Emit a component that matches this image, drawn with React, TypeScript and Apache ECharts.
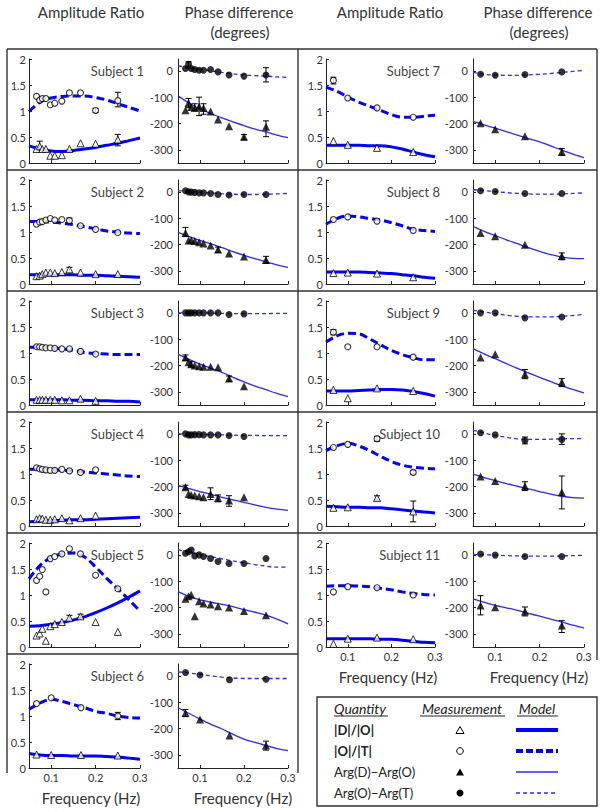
import React, { useEffect, useRef } from "react";
import * as echarts from "echarts";

const SUBJECTS = ["Subject 1", "Subject 2", "Subject 3", "Subject 4", "Subject 5", "Subject 6", "Subject 7", "Subject 8", "Subject 9", "Subject 10", "Subject 11"];

const F11 = [0.067, 0.074, 0.08, 0.088, 0.098, 0.108, 0.124, 0.141, 0.166, 0.2, 0.25];
const F10 = [0.067, 0.074, 0.08, 0.088, 0.098, 0.108, 0.124, 0.141, 0.166, 0.2];
const F4 = [0.067, 0.1, 0.167, 0.25];
const MEAS_FREQ = [F11, F11, F10, F10, F11, F4, F4, F4, F4, F4, F4];

// |D|/|O| measurements (open triangles)
const AMP_DO = [
  [0.27, 0.32, 0.27, 0.27, 0.14, 0.14, 0.15, 0.27, 0.38, 0.37, 0.45],
  [0.15, 0.16, 0.19, 0.22, 0.22, 0.21, 0.23, 0.28, 0.22, 0.19, 0.19],
  [0.1, 0.1, 0.1, 0.1, 0.1, 0.1, 0.09, 0.09, 0.12, 0.08],
  [0.13, 0.15, 0.14, 0.12, 0.12, 0.13, 0.15, 0.11, 0.15, 0.2],
  [0.22, 0.26, 0.35, 0.12, 0.4, 0.44, 0.48, 0.56, 0.59, 0.48, 0.29],
  [0.26, 0.25, 0.25, 0.24],
  [0.42, 0.35, 0.29, 0.21],
  [0.21, 0.22, 0.2, 0.13],
  [0.29, 0.13, 0.32, 0.27],
  [0.35, 0.36, 0.54, 0.28],
  [0.06, 0.16, 0.18, 0.15],
];
// |O|/|T| measurements (open circles)
const AMP_OT = [
  [1.28, 1.21, 1.24, 1.24, 1.12, 1.15, 1.19, 1.35, 1.35, 1.01, 1.2],
  [1.15, 1.19, 1.2, 1.23, 1.26, 1.23, 1.24, 1.22, 1.12, 1.05, 0.99],
  [1.12, 1.12, 1.11, 1.1, 1.1, 1.09, 1.08, 1.08, 1.03, 0.98],
  [1.12, 1.1, 1.09, 1.08, 1.07, 1.07, 1.09, 1.06, 1.03, 1.08],
  [1.28, 1.36, 1.49, 1.06, 1.7, 1.74, 1.79, 1.89, 1.79, 1.38, 1.12],
  [1.24, 1.35, 1.16, 1.0],
  [1.59, 1.25, 1.06, 0.88],
  [1.24, 1.29, 1.21, 1.03],
  [1.4, 1.12, 1.12, 0.92],
  [1.51, 1.57, 1.68, 1.03],
  [1.06, 1.16, 1.14, 1.0],
];
// Arg(D)-Arg(O) measurements (filled triangles)
const PH_DO = [
  [-150, -122, -137, -141, -135, -141, -154, -185, -210, -250, -212],
  [-156, -185, -184, -187, -191, -196, -204, -219, -234, -246, -259],
  [-170, -188, -195, -200, -203, -205, -205, -207, -249, -279],
  [-203, -228, -232, -234, -237, -241, -228, -244, -253, -241],
  [-167, -157, -152, -233, -176, -185, -189, -195, -200, -213, -229],
  [-141, -166, -227, -265],
  [-199, -222, -248, -308],
  [-156, -169, -201, -244],
  [-170, -157, -233, -264],
  [-162, -179, -199, -222],
  [-192, -199, -215, -268],
];
// Arg(O)-Arg(T) measurements (filled circles)
const PH_OT = [
  [9, 25, 9, 5, 2, 2, 5, -4, -16, -20, -16],
  [4, 0, -1, -2, -4, -4, -6, -10, -12, -10, -10],
  [0, 0, 0, 0, 0, 0, 0, 0, -6, -4],
  [0, -4, -4, -3, -3, -4, -4, -4, -6, -10],
  [6, 12, 18, -4, 0, -6, -14, -25, -33, -33, -14],
  [13, 3, -15, -13],
  [-13, -17, -14, -4],
  [4, 1, -6, -6],
  [0, 0, -19, -16],
  [4, -4, -25, -21],
  [3, -1, -6, -6],
];

const MODEL_FREQ = [0.05, 0.075, 0.1, 0.125, 0.15, 0.175, 0.2, 0.225, 0.25, 0.275, 0.3];
const MODEL_AMP_DO = [
  [0.33, 0.27, 0.23, 0.22, 0.24, 0.27, 0.3, 0.34, 0.38, 0.43, 0.48],
  [0.18, 0.18, 0.18, 0.18, 0.18, 0.17, 0.17, 0.16, 0.15, 0.14, 0.13],
  [0.1, 0.1, 0.1, 0.1, 0.09, 0.09, 0.08, 0.08, 0.07, 0.07, 0.06],
  [0.08, 0.09, 0.1, 0.11, 0.12, 0.12, 0.13, 0.14, 0.15, 0.16, 0.17],
  [0.4, 0.41, 0.44, 0.47, 0.52, 0.58, 0.66, 0.75, 0.85, 0.96, 1.08],
  [0.28, 0.25, 0.24, 0.24, 0.23, 0.23, 0.23, 0.22, 0.21, 0.19, 0.17],
  [0.34, 0.34, 0.34, 0.34, 0.33, 0.33, 0.31, 0.27, 0.21, 0.16, 0.12],
  [0.23, 0.23, 0.23, 0.23, 0.22, 0.21, 0.2, 0.18, 0.16, 0.13, 0.11],
  [0.27, 0.27, 0.27, 0.28, 0.29, 0.3, 0.3, 0.29, 0.26, 0.22, 0.17],
  [0.38, 0.37, 0.36, 0.36, 0.35, 0.35, 0.33, 0.31, 0.29, 0.27, 0.25],
  [0.16, 0.16, 0.16, 0.16, 0.16, 0.15, 0.15, 0.13, 0.11, 0.09, 0.08],
];
const MODEL_AMP_OT = [
  [0.99, 1.17, 1.25, 1.28, 1.29, 1.29, 1.26, 1.21, 1.14, 1.07, 1.0],
  [1.2, 1.2, 1.19, 1.17, 1.14, 1.1, 1.06, 1.02, 1.0, 0.98, 0.97],
  [1.11, 1.11, 1.1, 1.08, 1.05, 1.01, 0.99, 0.98, 0.97, 0.97, 0.97],
  [1.09, 1.09, 1.08, 1.07, 1.06, 1.04, 1.02, 1.0, 0.98, 0.96, 0.95],
  [1.31, 1.57, 1.72, 1.79, 1.81, 1.73, 1.54, 1.32, 1.12, 0.91, 0.69],
  [1.13, 1.25, 1.32, 1.28, 1.22, 1.16, 1.09, 1.05, 1.0, 0.97, 0.96],
  [1.46, 1.38, 1.27, 1.17, 1.09, 1.01, 0.93, 0.88, 0.88, 0.9, 0.92],
  [1.15, 1.26, 1.31, 1.29, 1.26, 1.23, 1.18, 1.12, 1.05, 1.03, 1.01],
  [1.21, 1.33, 1.38, 1.37, 1.27, 1.16, 1.05, 0.97, 0.91, 0.87, 0.87],
  [1.45, 1.54, 1.59, 1.54, 1.45, 1.34, 1.24, 1.17, 1.13, 1.11, 1.1],
  [1.17, 1.18, 1.18, 1.17, 1.16, 1.13, 1.1, 1.06, 1.03, 1.01, 1.0],
];
const MODEL_PH_DO = [
  [-95, -122, -145, -163, -179, -194, -208, -221, -232, -244, -254],
  [-154, -170, -184, -198, -212, -227, -241, -254, -266, -277, -287],
  [-157, -177, -195, -211, -226, -245, -262, -278, -292, -306, -318],
  [-196, -208, -219, -230, -241, -251, -260, -270, -279, -286, -291],
  [-140, -158, -171, -180, -188, -197, -208, -218, -229, -244, -262],
  [-120, -143, -164, -184, -202, -222, -240, -253, -265, -276, -284],
  [-192, -205, -218, -231, -244, -257, -270, -285, -301, -316, -330],
  [-131, -150, -166, -182, -197, -212, -226, -238, -248, -253, -254],
  [-136, -156, -174, -193, -211, -228, -245, -261, -277, -291, -304],
  [-153, -166, -178, -189, -199, -209, -219, -229, -237, -242, -244],
  [-167, -180, -192, -201, -211, -222, -233, -244, -255, -267, -278],
];
const MODEL_PH_OT = [
  [19, 12, 5, 0, -6, -11, -16, -18, -20, -23, -25],
  [4, 2, -1, -4, -7, -9, -10, -10, -9, -8, -6],
  [0, 0, 0, -1, -2, -3, -3, -3, -3, -2, -2],
  [0, -1, -2, -3, -4, -5, -6, -6, -7, -7, -7],
  [20, 10, 2, -7, -15, -23, -30, -37, -43, -47, -46],
  [15, 11, 6, 0, -5, -8, -10, -10, -10, -10, -10],
  [-6, -13, -16, -17, -17, -15, -13, -10, -6, -2, 2],
  [8, 5, 1, -3, -6, -8, -9, -9, -8, -6, -4],
  [10, 3, -3, -9, -13, -15, -15, -15, -13, -10, -6],
  [14, 3, -6, -13, -19, -21, -21, -20, -19, -18, -18],
  [2, 0, -1, -3, -4, -5, -5, -5, -4, -3, -2],
];

// error bars: [frequency, low, high]
const ERR_AMP = [
  [[0.074, 0.25, 0.42], [0.25, 0.33, 0.55], [0.25, 1.08, 1.36], [0.2, 0.97, 1.05]],
  [[0.141, 0.22, 0.32], [0.141, 1.17, 1.27]],
  [],
  [],
  [[0.141, 0.52, 0.61], [0.166, 0.55, 0.63]],
  [[0.25, 0.93, 1.07]],
  [[0.067, 1.52, 1.65]],
  [],
  [[0.067, 1.35, 1.45]],
  [[0.167, 1.63, 1.72], [0.25, 1.0, 1.07], [0.167, 0.5, 0.58], [0.25, 0.08, 0.48]],
  [],
];
const ERR_PH = [
  [[0.074, 10, 35], [0.25, -42, 12], [0.074, -140, -105], [0.098, -170, -100], [0.108, -165, -125], [0.088, -150, -125], [0.25, -250, -190], [0.2, -262, -242]],
  [[0.067, -170, -135], [0.25, -272, -245], [0.141, -230, -210]],
  [[0.067, -180, -160], [0.08, -205, -185], [0.166, -260, -240]],
  [[0.124, -250, -205], [0.141, -258, -232], [0.166, -275, -235], [0.067, -210, -195]],
  [],
  [[0.067, -155, -128], [0.25, -282, -248]],
  [[0.25, -320, -295]],
  [[0.25, -258, -232]],
  [[0.167, -250, -215], [0.25, -280, -250]],
  [[0.167, -38, -12], [0.25, -40, 0], [0.167, -215, -182], [0.25, -285, -160]],
  [[0.067, -228, -155], [0.167, -232, -198], [0.25, -295, -250]],
];

const X_TICKS = [0.1, 0.2, 0.3];
const PHASE_TICKS = [0, -100, -200, -300];

const FONT = "Lato, 'Open Sans', sans-serif";

export default function App() {
  const ref = useRef<HTMLDivElement>(null);
  useEffect(() => {
    if (!ref.current) return;
    const chart = echarts.init(ref.current, undefined, { renderer: "svg" });

    const LEFT_ROWS = [49, 170, 291, 412, 533, 654];
    const RIGHT_ROWS = [49, 170, 291, 412, 533];
    const axisColor = "#222";

    const grids: any[] = [];
    const xAxes: any[] = [];
    const yAxes: any[] = [];
    const series: any[] = [];
    const graphics: any[] = [];

    const errRender = (params: any, api: any) => {
      const x = api.value(0);
      const p1 = api.coord([x, api.value(1)]);
      const p2 = api.coord([x, api.value(2)]);
      const st = { stroke: "#000", lineWidth: 1 };
      return {
        type: "group",
        children: [
          { type: "line", shape: { x1: p1[0], y1: p1[1], x2: p2[0], y2: p2[1] }, style: st },
          { type: "line", shape: { x1: p1[0] - 3, y1: p1[1], x2: p1[0] + 3, y2: p1[1] }, style: st },
          { type: "line", shape: { x1: p2[0] - 3, y1: p2[1], x2: p2[0] + 3, y2: p2[1] }, style: st },
        ],
      };
    };

    for (let s = 0; s < 11; s++) {
      const left = s < 6;
      const rowTop = left ? LEFT_ROWS[s] : RIGHT_ROWS[s - 6];
      const isBottom = s === 5 || s === 10;
      const ampLeft = left ? 29 : 326;
      const ampW = left ? 111 : 109;
      const phLeft = left ? 178 : 473;
      const phW = left ? 110 : 111;
      const gTop = rowTop + 10;
      const gH = 104;
      const ga = 2 * s;
      const gp = 2 * s + 1;
      grids.push({ left: ampLeft, top: gTop, width: ampW, height: gH });
      grids.push({ left: phLeft, top: gTop, width: phW, height: gH });

      for (const g of [ga, gp]) {
        xAxes.push({
          gridIndex: g,
          type: "value",
          min: 0.05,
          max: 0.3,
          axisLine: { show: true, onZero: false, lineStyle: { color: axisColor, width: 1 } },
          axisTick: { show: true, inside: true, length: 3, customValues: X_TICKS, lineStyle: { color: axisColor } },
          axisLabel: { show: isBottom, customValues: X_TICKS, fontSize: 11, color: "#333", margin: 4, fontFamily: FONT },
          splitLine: { show: false },
        });
      }
      yAxes.push({
        gridIndex: ga,
        type: "value",
        min: 0,
        max: 2,
        interval: 0.5,
        axisLine: { show: true, onZero: false, lineStyle: { color: axisColor, width: 1 } },
        axisTick: { show: true, inside: true, length: 3, lineStyle: { color: axisColor } },
        axisLabel: { fontSize: 11, color: "#333", margin: 3, fontFamily: FONT },
        splitLine: { show: false },
      });
      yAxes.push({
        gridIndex: gp,
        type: "value",
        min: -350,
        max: 45,
        axisLine: { show: true, onZero: false, lineStyle: { color: axisColor, width: 1 } },
        axisTick: { show: true, inside: true, length: 3, customValues: PHASE_TICKS, lineStyle: { color: axisColor } },
        axisLabel: { customValues: PHASE_TICKS, fontSize: 11, color: "#333", margin: 5, fontFamily: FONT },
        splitLine: { show: false },
      });

      const lineBase = { type: "line", showSymbol: false, smooth: 0.35, silent: true, z: 2 };
      // amplitude panel
      series.push({
        ...lineBase, xAxisIndex: ga, yAxisIndex: ga,
        data: MODEL_FREQ.map((f, i) => [f, MODEL_AMP_DO[s][i]]),
        lineStyle: { color: "#0000ff", width: 3 },
      });
      series.push({
        ...lineBase, xAxisIndex: ga, yAxisIndex: ga,
        data: MODEL_FREQ.map((f, i) => [f, MODEL_AMP_OT[s][i]]),
        lineStyle: { color: "#0000ff", width: 3, type: [8, 4] },
      });
      series.push({
        type: "custom", xAxisIndex: ga, yAxisIndex: ga, renderItem: errRender,
        encode: { x: 0, y: [1, 2] }, data: ERR_AMP[s], z: 3, silent: true,
      });
      series.push({
        type: "scatter", xAxisIndex: ga, yAxisIndex: ga, symbol: "triangle", symbolSize: 7,
        data: MEAS_FREQ[s].map((f, i) => [f, AMP_DO[s][i]]),
        itemStyle: { color: "#fff", borderColor: "#000", borderWidth: 1 }, z: 4, silent: true,
      });
      series.push({
        type: "scatter", xAxisIndex: ga, yAxisIndex: ga, symbol: "circle", symbolSize: 6,
        data: MEAS_FREQ[s].map((f, i) => [f, AMP_OT[s][i]]),
        itemStyle: { color: "#fff", borderColor: "#000", borderWidth: 1.1 }, z: 4, silent: true,
      });
      // phase panel
      series.push({
        ...lineBase, xAxisIndex: gp, yAxisIndex: gp,
        data: MODEL_FREQ.map((f, i) => [f, MODEL_PH_DO[s][i]]),
        lineStyle: { color: "#2a2aff", width: 1.3 },
      });
      series.push({
        ...lineBase, xAxisIndex: gp, yAxisIndex: gp,
        data: MODEL_FREQ.map((f, i) => [f, MODEL_PH_OT[s][i]]),
        lineStyle: { color: "#2a2aff", width: 1.3, type: [4, 3] },
      });
      series.push({
        type: "custom", xAxisIndex: gp, yAxisIndex: gp, renderItem: errRender,
        encode: { x: 0, y: [1, 2] }, data: ERR_PH[s], z: 3, silent: true,
      });
      series.push({
        type: "scatter", xAxisIndex: gp, yAxisIndex: gp, symbol: "triangle", symbolSize: 8,
        data: MEAS_FREQ[s].map((f, i) => [f, PH_DO[s][i]]),
        itemStyle: { color: "#000" }, z: 4, silent: true,
      });
      series.push({
        type: "scatter", xAxisIndex: gp, yAxisIndex: gp, symbol: "circle", symbolSize: 7,
        data: MEAS_FREQ[s].map((f, i) => [f, PH_OT[s][i]]),
        itemStyle: { color: "#000" }, z: 4, silent: true,
      });

      graphics.push({
        type: "text",
        style: {
          text: SUBJECTS[s], x: left ? 144 : 440, y: rowTop + 22,
          textAlign: "right", textVerticalAlign: "middle",
          font: `13px ${FONT}`, fill: "#444",
        },
      });
    }

    // headers
    const header = (text: string, x: number, y: number) => ({
      type: "text",
      style: { text, x, y, textAlign: "center", textVerticalAlign: "middle", font: `15px ${FONT}`, fill: "#333" },
    });
    graphics.push(header("Amplitude Ratio", 91, 12));
    graphics.push(header("Phase difference", 239, 12));
    graphics.push(header("(degrees)", 240, 32));
    graphics.push(header("Amplitude Ratio", 390, 12));
    graphics.push(header("Phase difference", 538, 12));
    graphics.push(header("(degrees)", 539, 32));

    const fx = (text: string, x: number, y: number) => ({
      type: "text",
      style: { text, x, y, textAlign: "center", textVerticalAlign: "middle", font: `15px ${FONT}`, fill: "#333" },
    });
    graphics.push(fx("Frequency (Hz)", 91, 798));
    graphics.push(fx("Frequency (Hz)", 243, 798));
    graphics.push(fx("Frequency (Hz)", 388, 677));
    graphics.push(fx("Frequency (Hz)", 539, 677));

    // panel borders
    const bs = { stroke: "#333", lineWidth: 1.4 };
    const ln = (x1: number, y1: number, x2: number, y2: number, style: any = bs) => ({
      type: "line", shape: { x1, y1, x2, y2 }, style,
    });
    graphics.push(ln(7, 49, 597, 49));
    graphics.push(ln(7, 49, 7, 773));
    graphics.push(ln(298, 49, 298, 773));
    graphics.push(ln(597, 49, 597, 660));
    for (const y of [170, 291, 412, 533, 654]) graphics.push(ln(7, y, 298, y));
    for (const y of [170, 291, 412, 533]) graphics.push(ln(298, y, 597, y));

    // legend box
    graphics.push({
      type: "rect", shape: { x: 317, y: 697, width: 280, height: 109 },
      style: { fill: "none", stroke: "#333", lineWidth: 1.4 },
    });
    const legTitle = (text: string, x: number, align: string) => ({
      type: "text",
      style: { text, x, y: 708, textAlign: align, textVerticalAlign: "middle", font: `italic 14px ${FONT}`, fill: "#222" },
    });
    graphics.push(legTitle("Quantity", 334, "left"));
    graphics.push(legTitle("Measurement", 462, "center"));
    graphics.push(legTitle("Model", 537, "center"));
    const ul = { stroke: "#222", lineWidth: 1 };
    graphics.push(ln(334, 716, 388, 716, ul));
    graphics.push(ln(420, 716, 505, 716, ul));
    graphics.push(ln(517, 716, 558, 716, ul));

    const rowsY = [730, 751, 772, 793];
    const legLabels = ["|D|/|O|", "|O|/|T|", "Arg(D)\u2212Arg(O)", "Arg(O)\u2212Arg(T)"];
    legLabels.forEach((t, i) => {
      graphics.push({
        type: "text",
        style: {
          text: t, x: 334, y: rowsY[i], textAlign: "left", textVerticalAlign: "middle",
          font: `${i < 2 ? "bold " : ""}13px ${FONT}`, fill: "#222",
        },
      });
    });
    const mx = 460;
    graphics.push({
      type: "polygon", shape: { points: [[mx - 4, rowsY[0] + 3.5], [mx + 4, rowsY[0] + 3.5], [mx, rowsY[0] - 3.5]] },
      style: { fill: "#fff", stroke: "#000", lineWidth: 1 },
    });
    graphics.push({
      type: "circle", shape: { cx: mx, cy: rowsY[1], r: 3.3 },
      style: { fill: "#fff", stroke: "#000", lineWidth: 1 },
    });
    graphics.push({
      type: "polygon", shape: { points: [[mx - 4, rowsY[2] + 3.5], [mx + 4, rowsY[2] + 3.5], [mx, rowsY[2] - 3.5]] },
      style: { fill: "#000" },
    });
    graphics.push({
      type: "circle", shape: { cx: mx, cy: rowsY[3], r: 3.5 },
      style: { fill: "#000" },
    });
    graphics.push(ln(516, rowsY[0], 558, rowsY[0], { stroke: "#0000ff", lineWidth: 4 }));
    graphics.push(ln(516, rowsY[1], 558, rowsY[1], { stroke: "#0000ff", lineWidth: 4, lineDash: [7, 3] }));
    graphics.push(ln(516, rowsY[2], 558, rowsY[2], { stroke: "#2a2aff", lineWidth: 1.3 }));
    graphics.push(ln(516, rowsY[3], 558, rowsY[3], { stroke: "#2a2aff", lineWidth: 1.3, lineDash: [4, 3] }));

    chart.setOption({
      animation: false,
      backgroundColor: "#fff",
      textStyle: { fontFamily: FONT },
      grid: grids,
      xAxis: xAxes,
      yAxis: yAxes,
      series,
      graphic: { elements: graphics },
    });
    return () => chart.dispose();
  }, []);
  return <div ref={ref} style={{ position: "absolute", left: 0, top: 0, width: 600, height: 812 }} />;
}
